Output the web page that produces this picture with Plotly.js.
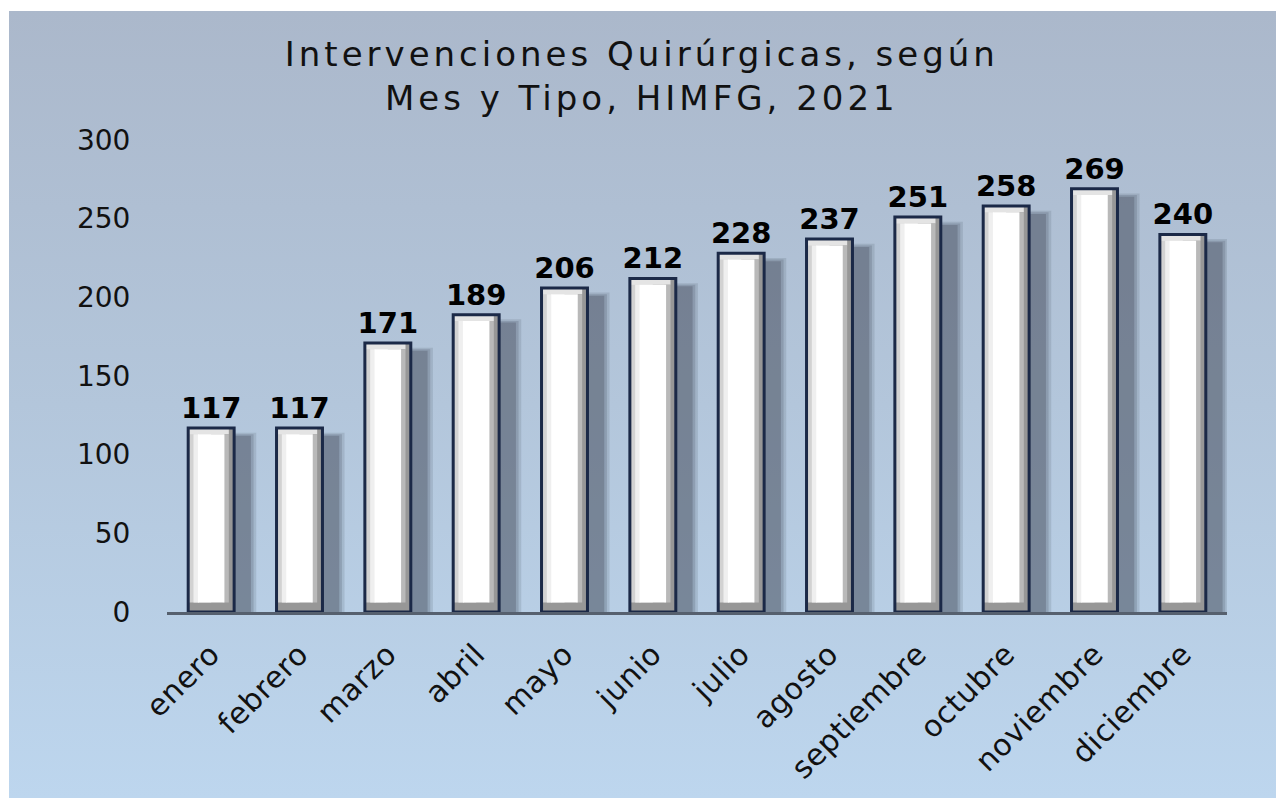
<!DOCTYPE html>
<html>
<head>
<meta charset="utf-8">
<script src="https://cdn.plot.ly/plotly-3.0.1.min.js"></script>
<style>
  html, body { margin: 0; padding: 0; background: #ffffff; width: 1276px; height: 798px; overflow: hidden; }
  #panel { position: absolute; left: 9px; top: 11px; width: 1267px; height: 787px;
           background: linear-gradient(to bottom, #abb8cb 0%, #b3c6db 50%, #bdd6ee 100%); }
  #chart { position: absolute; left: 0; top: 0; width: 1276px; height: 798px; }
  #chart .gtitle { letter-spacing: 4px; }
  #chart .xtick text { letter-spacing: 0.6px; }
</style>
</head>
<body>
<div id="panel"></div>
<div id="chart"></div>
<script>
const months = ['enero','febrero','marzo','abril','mayo','junio','julio','agosto','septiembre','octubre','noviembre','diciembre'];
const interventions = [117, 117, 171, 189, 206, 212, 228, 237, 251, 258, 269, 240];
const yTicks = [0, 50, 100, 150, 200, 250, 300];
const chartTitle = 'Intervenciones Quirúrgicas, según<br>Mes y Tipo, HIMFG, 2021';

const FONT = 'DejaVu Sans, sans-serif';
const bottomBevel = 6, topBevel = 4;

function bar(opts) {
  return Object.assign({
    type: 'bar', x: months, hoverinfo: 'skip', showlegend: false,
    marker: { color: opts.color, line: { width: 0 } }
  }, opts.extra);
}

const traces = [
  // shadow (soft, layered)
  bar({ color: 'rgba(70,78,94,0.16)', extra: { y: interventions.map(v => v - 3), width: 0.58, offset: -0.07 } }),
  bar({ color: 'rgba(70,78,94,0.22)', extra: { y: interventions.map(v => v - 4), width: 0.54, offset: -0.06 } }),
  bar({ color: 'rgba(70,78,94,0.32)', extra: { y: interventions.map(v => v - 5), width: 0.50, offset: -0.05 } }),
  // bar body (darker bevel)
  bar({ color: '#979797', extra: { y: interventions, width: 0.52, offset: -0.26 } }),
  // left light bevel
  bar({ color: '#d2d2d2', extra: { y: interventions.map(v => v - bottomBevel), base: bottomBevel, width: 0.26, offset: -0.26 } }),
  // top light bevel
  bar({ color: '#e4e4e4', extra: { y: interventions.map(() => topBevel), base: interventions.map(v => v - topBevel), width: 0.46, offset: -0.26 } }),
  // right mid bevel
  bar({ color: '#b9b9b9', extra: { y: interventions.map(v => v - bottomBevel - topBevel), base: bottomBevel, width: 0.07, offset: 0.13 } }),
  // left inner highlight
  bar({ color: '#efefef', extra: { y: interventions.map(v => v - bottomBevel - topBevel), base: bottomBevel, width: 0.06, offset: -0.2 } }),
  // white face
  bar({ color: '#ffffff', extra: { y: interventions.map(v => v - bottomBevel - topBevel), base: bottomBevel, width: 0.30, offset: -0.15 } }),
  // outline + labels
  {
    type: 'bar', x: months, y: interventions, width: 0.52, offset: -0.26,
    hoverinfo: 'skip', showlegend: false,
    marker: { color: 'rgba(0,0,0,0)', line: { color: '#1b2947', width: 3 } },
    texttemplate: '<b>%{y}</b>', textposition: 'outside', cliponaxis: false,
    constraintext: 'none', textangle: 0,
    textfont: { family: FONT, size: 29, color: '#000000' }
  }
];

const layout = {
  width: 1276, height: 798,
  paper_bgcolor: 'rgba(0,0,0,0)', plot_bgcolor: 'rgba(0,0,0,0)',
  barmode: 'overlay',
  margin: { l: 167, r: 49, t: 140, b: 186 },
  title: {
    text: chartTitle, x: 0.503, xanchor: 'center', y: 0.917, yanchor: 'top',
    font: { family: FONT, size: 34, color: '#111111' }
  },
  xaxis: {
    type: 'category', range: [-0.5, 11.5],
    showline: true, linecolor: '#56606e', linewidth: 2.5,
    showgrid: false, zeroline: false,
    ticks: 'outside', ticklen: 10, tickcolor: 'rgba(0,0,0,0)',
    tickangle: -45,
    tickfont: { family: FONT, size: 30, color: '#111111' }
  },
  yaxis: {
    range: [0, 300], tickvals: yTicks, ticktext: yTicks.map(String),
    showline: false, showgrid: false, zeroline: false,
    ticks: 'outside', ticklen: 30, tickcolor: 'rgba(0,0,0,0)',
    tickfont: { family: FONT, size: 28, color: '#111111' }
  }
};

Plotly.newPlot('chart', traces, layout, { displayModeBar: false, staticPlot: true });
</script>
</body>
</html>
